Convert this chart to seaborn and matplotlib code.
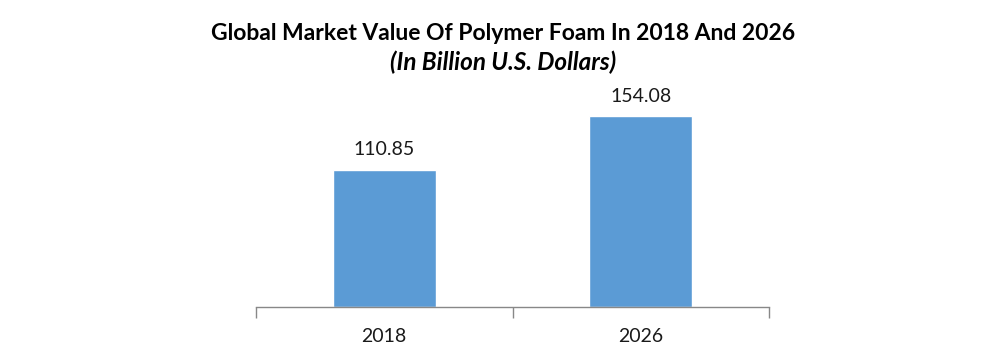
import matplotlib
matplotlib.use("Agg")
import matplotlib.pyplot as plt
import seaborn as sns
import pandas as pd

years = ["2018", "2026"]
values = [110.85, 154.08]
value_labels = ["110.85", "154.08"]
title = "Global Market Value Of Polymer Foam In 2018 And 2026"
subtitle = "(In Billion U.S. Dollars)"

sns.set_theme(style="white")
plt.rcParams["font.family"] = ["Lato", "DejaVu Sans"]

df = pd.DataFrame({"year": years, "value": values})

fig = plt.figure(figsize=(10.07, 3.55), dpi=100)
ax = fig.add_axes([256 / 1007, 48 / 355, (769 - 256) / 1007, 212 / 355])
sns.barplot(data=df, x="year", y="value", color="#5B9BD5", width=0.4,
            saturation=1, ax=ax)
ax.set_xlim(-0.5, 1.5)
ax.set_ylim(0, 212 / 1.237)

for i, (v, lab) in enumerate(zip(values, value_labels)):
    ax.text(i, v + 9.5, lab, ha="center", va="bottom", fontsize=14, color="#1a1a1a")

for s in ["top", "right", "left"]:
    ax.spines[s].set_visible(False)
ax.spines["bottom"].set_color("#888888")
ax.spines["bottom"].set_linewidth(1)
ax.set_yticks([])
ax.set_xticks([-0.5, 0.5, 1.5], minor=False)
ax.set_xticklabels([])
ax.tick_params(axis="x", which="major", bottom=True, length=8, color="#888888",
               width=1, direction="out")
ax.set_xticks([0, 1], minor=True)
ax.set_xticklabels(years, minor=True, fontsize=14, color="#1a1a1a")
ax.tick_params(axis="x", which="minor", bottom=True, length=0, pad=15)
ax.set_xlabel("")
ax.set_ylabel("")

fig.text(0.5, 1 - 33 / 355, title, ha="center", va="center", fontsize=16.5,
         fontweight="bold", color="#000000")
fig.text(0.5, 1 - 62 / 355, subtitle, ha="center", va="center", fontsize=17.5,
         fontweight="bold", style="italic", color="#000000")

fig.savefig("out.png", dpi=100)
